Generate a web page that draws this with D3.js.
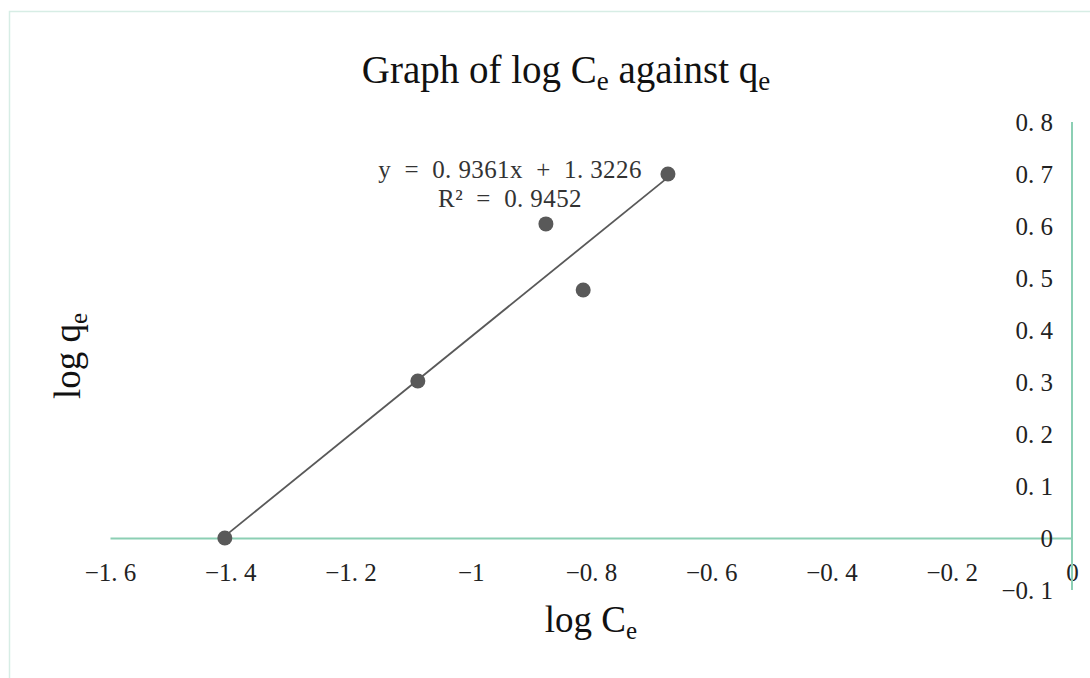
<!DOCTYPE html>
<html>
<head>
<meta charset="utf-8">
<script src="https://cdn.jsdelivr.net/npm/d3@7"></script>
<style>
  body { margin: 0; background: #fff; }
  svg { display: block; }
</style>
</head>
<body>
<svg id="chart" width="1090" height="678"></svg>
<script>
// data
const logCe = [-1.409, -1.088, -0.875, -0.813, -0.672];
const logQe = [0.0, 0.302, 0.604, 0.477, 0.70];
const xTicks = [-1.6, -1.4, -1.2, -1, -0.8, -0.6, -0.4, -0.2, 0];
const yTicks = [-0.1, 0, 0.1, 0.2, 0.3, 0.4, 0.5, 0.6, 0.7, 0.8];
const slope = 0.9361, intercept = 1.3226, r2 = 0.9452;

const svg = d3.select("#chart");
const axisColor = "#8ccfb4";
const markColor = "#595959";
const serif = "'Liberation Serif', 'Times New Roman', serif";

// chart frame
svg.append("rect")
    .attr("x", 9.5).attr("y", 11.5)
    .attr("width", 1100).attr("height", 700)
    .attr("fill", "none")
    .attr("stroke", "#d7ede5")
    .attr("stroke-width", 1.5);

const x = d3.scaleLinear().domain([-1.6, 0]).range([110, 1072]);
const y = d3.scaleLinear().domain([-0.1, 0.8]).range([590, 122]);

// format like "−1. 6"
const fmt = (d) => {
    if (d === 0) return "0";
    let s = String(Math.abs(d)).replace(".", ". ");
    return (d < 0 ? "\u2212" : "") + s;
};

// x axis, sits on y = 0
const gx = svg.append("g")
    .attr("transform", `translate(0,${y(0)})`)
    .call(d3.axisBottom(x).tickValues(xTicks).tickFormat(fmt).tickSize(0).tickPadding(25));
gx.select(".domain").attr("stroke", axisColor).attr("stroke-width", 2);
gx.selectAll(".tick text")
    .attr("font-family", serif)
    .attr("font-size", 25)
    .attr("fill", "#222");

// y axis, sits on x = 0
const gy = svg.append("g")
    .attr("transform", `translate(${x(0)},0)`)
    .call(d3.axisLeft(y).tickValues(yTicks).tickFormat(fmt).tickSize(0).tickPadding(19));
gy.select(".domain").attr("stroke", axisColor).attr("stroke-width", 2)
    .attr("d", `M0,${y(-0.1)}V${y(0.8)}`);
gy.selectAll(".tick text")
    .attr("font-family", serif)
    .attr("font-size", 25)
    .attr("fill", "#222");

// trendline
const xMin = d3.min(logCe), xMax = d3.max(logCe);
svg.append("line")
    .attr("x1", x(xMin)).attr("y1", y(slope * xMin + intercept))
    .attr("x2", x(xMax)).attr("y2", y(slope * xMax + intercept))
    .attr("stroke", markColor)
    .attr("stroke-width", 1.8);

// points
svg.append("g")
    .selectAll("circle")
    .data(logCe.map((d, i) => ({ x: d, y: logQe[i] })))
    .join("circle")
    .attr("cx", (d) => x(d.x))
    .attr("cy", (d) => y(d.y))
    .attr("r", 7.5)
    .attr("fill", markColor);

// equation label
const eq = svg.append("text")
    .attr("font-family", serif)
    .attr("font-size", 25)
    .attr("letter-spacing", 0.4)
    .attr("fill", "#333")
    .attr("text-anchor", "middle")
    .attr("xml:space", "preserve")
    .style("white-space", "pre");
eq.append("tspan").attr("x", 510).attr("y", 178)
    .text(`y  =  ${slope.toFixed(4).replace(".", ". ")}x  +  ${intercept.toFixed(4).replace(".", ". ")}`);
eq.append("tspan").attr("x", 510).attr("y", 207)
    .text(`R\u00B2  =  ${r2.toFixed(4).replace(".", ". ")}`);

// title
const title = svg.append("text")
    .attr("x", 566).attr("y", 83)
    .attr("text-anchor", "middle")
    .attr("font-family", serif)
    .attr("font-size", 39)
    .attr("fill", "#111");
title.append("tspan").text("Graph of log C");
title.append("tspan").attr("font-size", 27).attr("dy", 7).text("e");
title.append("tspan").attr("dy", -7).text(" against q");
title.append("tspan").attr("font-size", 27).attr("dy", 7).text("e");

// x axis title
const xt = svg.append("text")
    .attr("x", 591).attr("y", 632)
    .attr("text-anchor", "middle")
    .attr("font-family", serif)
    .attr("font-size", 37)
    .attr("fill", "#111");
xt.append("tspan").text("log C");
xt.append("tspan").attr("font-size", 25).attr("dy", 7).text("e");

// y axis title
const yt = svg.append("text")
    .attr("transform", "translate(80,356) rotate(-90)")
    .attr("text-anchor", "middle")
    .attr("font-family", serif)
    .attr("font-size", 37)
    .attr("fill", "#111");
yt.append("tspan").text("log q");
yt.append("tspan").attr("font-size", 25).attr("dy", 7).text("e");
</script>
</body>
</html>
